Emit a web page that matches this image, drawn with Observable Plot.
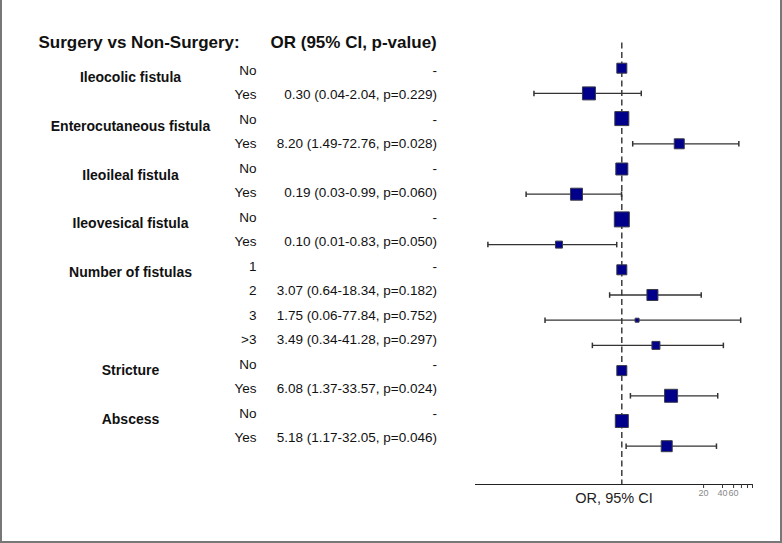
<!DOCTYPE html>
<html><head><meta charset="utf-8">
<script src="https://cdn.jsdelivr.net/npm/d3@7"></script>
<script src="https://cdn.jsdelivr.net/npm/@observablehq/plot@0.6"></script>
<style>
body{margin:0;background:#fff;font-family:"Liberation Sans",Arial,sans-serif;}
#wrap{position:relative;width:782px;height:543px;overflow:hidden;}
#border{position:absolute;left:0;top:0;width:782px;height:543px;box-sizing:border-box;border:2px solid #777;border-top:none;pointer-events:none;}
</style></head><body><div id="wrap"><div id="border"></div></div>
<script>
// ---- data ----
const groups = ["Ileocolic fistula","Enterocutaneous fistula","Ileoileal fistula","Ileovesical fistula","Number of fistulas","Stricture","Abscess"];
const rowGroup = [0,0,1,1,2,2,3,3,4,4,4,4,5,5,6,6];
const rowLevel = ["No","Yes","No","Yes","No","Yes","No","Yes","1","2","3",">3","No","Yes","No","Yes"];
const orValue  = [1,0.30,1,8.20,1,0.19,1,0.10,1,3.07,1.75,3.49,1,6.08,1,5.18];
const ciLow    = [null,0.04,null,1.49,null,0.03,null,0.0074,null,0.64,0.06,0.34,null,1.37,null,1.17];
const ciHigh   = [null,2.04,null,72.76,null,0.99,null,0.83,null,18.34,77.84,41.28,null,33.57,null,32.05];
const pValue   = [null,0.229,null,0.028,null,0.060,null,0.050,null,0.182,0.752,0.297,null,0.024,null,0.046];
const weight   = [10,13,14,10,12,12,15,7,10,11,4,8,10,13,13,11];
const xTicks   = [20,40,60,80,100,120];
const xTickLabels = [20,40,60];
const headerLeft = "Surgery vs Non-Surgery:";
const headerRight = "OR (95% CI, p-value)";
const axisLabel = "OR, 95% CI";

// ---- table ----
const rows = rowLevel.map((lev, i) => ({
  i, level: lev, group: groups[rowGroup[i]], or: orValue[i], lo: ciLow[i], hi: ciHigh[i], p: pValue[i], w: weight[i],
  label: ciLow[i] == null ? "-" :
    `${orValue[i].toFixed(2)} (${ciLow[i].toFixed(2)}-${ciHigh[i].toFixed(2)}, p=${pValue[i].toFixed(3)})`
}));
const ciRows = rows.filter(d => d.lo != null);
const groupRows = groups.map((g, k) => ({g, i: rowGroup.indexOf(k)}));

// layout helpers
const yDomain = [-1, 16.52];
const textRow = i => 0.091 + 0.972 * i;
const left = 475;
const capH = 0.11;
const font = "Liberation Sans, Arial, sans-serif";

const chart = Plot.plot({
  width: 782, height: 543,
  marginLeft: left, marginRight: 30, marginTop: 42.5, marginBottom: 59,
  style: {fontFamily: font, background: "transparent"},
  x: {type: "log", domain: [0.0047, 120], axis: null},
  y: {domain: yDomain, reverse: true, axis: null},
  r: {type: "linear", domain: [0, 15], range: [0, 15 / Math.sqrt(Math.PI)]},
  marks: [
    Plot.ruleX([1], {stroke: "#222", strokeWidth: 1.3, strokeDasharray: "6,3.5"}),
    Plot.ruleY([yDomain[1]], {stroke: "#222", strokeWidth: 1.2}),
    Plot.axisX({ticks: xTicks, tickSize: 4, text: null, stroke: "#333", label: null}),
    Plot.text(xTickLabels, {x: d => d, frameAnchor: "bottom", dy: 11, fontSize: 9, fill: "#888"}),
    Plot.text([axisLabel], {frameAnchor: "bottom", dy: 18, fontSize: 14.5, fill: "#222"}),
    Plot.link(ciRows, {x1: "lo", x2: "hi", y1: "i", y2: "i", stroke: "#333", strokeWidth: 1.3}),
    Plot.link(ciRows, {x1: "lo", x2: "lo", y1: d => d.i - capH, y2: d => d.i + capH, stroke: "#333", strokeWidth: 1.5}),
    Plot.link(ciRows, {x1: "hi", x2: "hi", y1: d => d.i - capH, y2: d => d.i + capH, stroke: "#333", strokeWidth: 1.5}),
    Plot.dot(rows, {x: "or", y: "i", r: "w", symbol: "square", fill: "#00008b", stroke: "#3a3a4a", strokeWidth: 1}),
    // header
    Plot.text([headerLeft], {frameAnchor: "left", y: () => -1, dx: 38 - left, textAnchor: "start", fontSize: 17, fontWeight: "bold", fill: "#111"}),
    Plot.text([headerRight], {frameAnchor: "left", y: () => -1, dx: 270 - left, textAnchor: "start", fontSize: 17, fontWeight: "bold", fill: "#111"}),
    // group labels
    Plot.text(groupRows, {frameAnchor: "left", y: d => textRow(d.i) + 0.26, text: "g", dx: 130 - left, textAnchor: "middle", fontSize: 14, fontWeight: "bold", fill: "#111"}),
    // levels
    Plot.text(rows, {frameAnchor: "left", y: d => textRow(d.i), text: "level", dx: 256 - left, textAnchor: "end", fontSize: 13.5, fill: "#111"}),
    // values
    Plot.text(rows, {frameAnchor: "left", y: d => textRow(d.i), text: "label", dx: 436.5 - left, textAnchor: "end", fontSize: 13.5, fill: "#111"})
  ]
});
document.getElementById("wrap").prepend(chart);
</script>
</body></html>
